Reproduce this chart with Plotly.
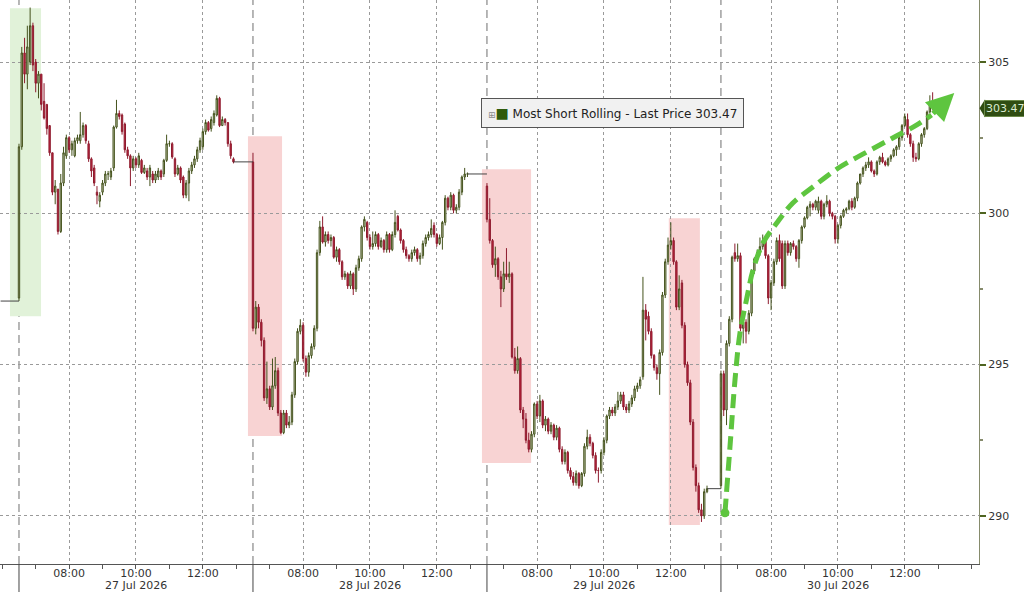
import plotly.graph_objects as go

# ---------------- data ----------------
session_start_hour = 6.5      # 06:30 session start
session_length_h = 7.0        # hours shown per day
bar_minutes = 5

day_labels = ["27 Jul 2026", "28 Jul 2026", "29 Jul 2026", "30 Jul 2026"]
day_label_hour = 10
hour_values = [8, 10, 12]
hour_labels = ["08:00", "10:00", "12:00"]

price_ticks = [290, 295, 300, 305]
last_price = 303.47
series_name = "Most Short Rolling - Last Price"

prev_session_close = 297.1

d1_open = [297.2, 302.2, 305.3, 304.6, 305.0, 306.2, 305.0, 304.3, 304.6, 303.7, 303.6, 302.9, 302.0, 300.7, 300.8, 299.4,
           301.0, 301.9, 302.5, 302.1, 301.9, 302.4, 302.4, 302.6, 302.9, 302.3, 301.8, 301.5, 300.7, 300.4, 300.7, 301.0,
           301.3, 301.2, 301.5, 302.85, 303.3, 303.25, 302.95, 302.1, 301.9, 301.5, 301.8, 301.6, 301.75, 301.35, 301.4, 301.2,
           301.3, 301.1, 301.2, 301.4, 301.3, 301.75, 302.3, 302.3, 301.8, 301.3, 301.5, 301.2, 300.6, 301.0, 301.4, 301.6,
           301.8, 302.1, 302.2, 302.7, 303.0, 302.8, 303.0, 303.25, 303.8, 302.9, 303.1, 303.0, 302.3, 301.8]
d1_high = [302.3, 305.5, 305.8, 306.2, 306.8, 306.3, 305.1, 304.7, 304.6, 304.3, 303.6, 302.9, 302.0, 301.1, 300.8, 301.3,
           302.2, 302.6, 302.55, 302.4, 302.5, 302.6, 303.35, 303.0, 302.95, 302.4, 301.85, 301.6, 300.9, 300.7, 301.1, 301.4,
           301.4, 301.5, 302.9, 303.75, 303.4, 303.3, 303.0, 302.2, 301.95, 301.9, 301.85, 302.0, 301.8, 301.6, 301.5, 301.6,
           301.4, 301.4, 301.5, 301.45, 301.8, 302.6, 302.4, 302.35, 301.85, 301.6, 301.55, 301.25, 301.1, 301.5, 301.7, 301.9,
           302.2, 302.5, 302.8, 303.1, 303.05, 303.2, 303.4, 303.9, 303.85, 303.2, 303.15, 303.0, 302.4, 301.85]
d1_low = [297.1, 302.1, 304.3, 304.1, 304.9, 304.7, 304.0, 303.8, 303.4, 303.1, 302.6, 301.9, 300.6, 300.3, 299.3, 299.35,
          300.9, 301.8, 302.0, 301.9, 301.85, 302.3, 302.3, 302.5, 302.3, 301.7, 301.2, 300.9, 300.3, 300.2, 300.6, 300.9,
          301.1, 301.1, 301.4, 302.8, 303.1, 302.6, 302.0, 301.8, 300.9, 301.4, 301.5, 301.5, 301.3, 301.3, 301.1, 300.9,
          301.0, 301.0, 301.1, 301.1, 301.2, 301.7, 302.2, 301.8, 301.2, 301.25, 301.0, 300.5, 300.5, 300.4, 301.3, 301.5,
          301.7, 302.0, 302.1, 302.6, 302.7, 302.7, 302.9, 303.2, 302.85, 302.9, 302.9, 302.2, 301.8, 301.65]
d1_close = [302.2, 305.3, 304.6, 305.5, 306.2, 304.9, 304.3, 304.6, 303.6, 303.15, 302.8, 302.0, 300.7, 300.9, 299.4, 301.0,
            302.0, 302.5, 302.1, 302.3, 302.4, 302.5, 302.6, 302.9, 302.4, 301.8, 301.4, 301.0, 300.6, 300.6, 301.0, 301.3,
            301.3, 301.4, 302.85, 303.3, 303.2, 302.7, 302.1, 301.9, 301.5, 301.8, 301.6, 301.9, 301.35, 301.5, 301.2, 301.5,
            301.1, 301.3, 301.4, 301.2, 301.75, 302.3, 302.3, 301.86, 301.3, 301.5, 301.1, 300.6, 301.0, 301.4, 301.6, 301.8,
            302.1, 302.4, 302.7, 303.0, 302.75, 303.1, 303.3, 303.8, 302.9, 303.1, 303.0, 302.3, 301.9, 301.7]

d2_open = [301.7, 296.2, 296.9, 296.4, 295.8, 293.9, 294.2, 293.6, 294.3, 294.8, 293.4, 292.75, 293.4, 293.0, 293.1, 294.0,
           295.1, 296.1, 296.3, 295.2, 294.75, 295.3, 295.6, 296.2, 298.7, 299.55, 299.05, 299.3, 299.1, 299.2, 298.55, 298.8,
           298.4, 297.9, 298.0, 297.6, 298.0, 297.5, 298.2, 298.5, 299.55, 299.7, 299.2, 298.9, 299.0, 299.3, 298.9, 299.1,
           298.8, 299.3, 298.8, 299.3, 299.9, 299.45, 299.1, 298.8, 298.6, 298.5, 298.7, 298.8, 298.5, 298.6, 299.0, 299.2,
           299.3, 299.6, 299.3, 299.0, 299.2, 299.7, 300.5, 300.2, 300.6, 300.1, 300.2, 300.7, 301.2, 301.3]
d2_high = [302.0, 297.1, 297.0, 296.5, 295.9, 295.1, 294.3, 295.2, 295.25, 294.9, 293.5, 293.5, 293.5, 293.3, 294.1, 295.2,
           296.2, 296.5, 296.4, 295.3, 295.4, 295.7, 296.3, 298.8, 299.75, 299.9, 299.4, 299.4, 299.3, 299.25, 298.9, 298.85,
           298.45, 298.1, 298.05, 298.1, 298.05, 298.3, 298.6, 299.6, 299.9, 299.75, 299.3, 299.4, 299.4, 299.35, 299.2, 299.15,
           299.4, 299.35, 299.4, 300.1, 299.95, 299.5, 299.15, 298.9, 298.65, 298.8, 298.9, 298.85, 298.7, 299.1, 299.3, 299.4,
           299.8, 299.7, 299.35, 299.3, 299.75, 300.6, 300.55, 300.7, 300.65, 300.3, 300.8, 301.25, 301.5, 301.35]
d2_low = [296.1, 296.0, 296.2, 295.6, 293.8, 293.7, 293.5, 293.5, 294.2, 293.3, 292.7, 292.7, 292.9, 292.9, 293.0, 293.9,
          295.0, 296.0, 295.1, 294.6, 294.6, 295.2, 295.5, 296.1, 298.6, 299.0, 298.9, 299.0, 298.9, 298.5, 298.4, 298.3,
          297.8, 297.8, 297.5, 297.5, 297.3, 297.4, 298.1, 298.4, 299.4, 299.1, 298.8, 298.8, 298.9, 298.8, 298.85, 298.7,
          298.7, 298.7, 298.75, 299.2, 299.4, 299.0, 298.7, 298.5, 298.4, 298.4, 298.6, 298.4, 298.3, 298.5, 298.9, 299.1,
          299.2, 299.2, 298.9, 298.95, 298.8, 299.6, 300.1, 300.1, 300.0, 300.0, 300.1, 300.6, 301.1, 301.2]
d2_close = [296.2, 296.9, 296.4, 295.8, 293.9, 294.2, 293.6, 294.3, 294.8, 293.4, 292.75, 293.4, 293.0, 293.1, 294.0, 295.1,
            296.1, 296.3, 295.2, 294.75, 295.3, 295.6, 296.2, 298.7, 299.55, 299.05, 299.3, 299.1, 299.2, 298.55, 298.8, 298.4,
            297.9, 298.0, 297.6, 298.0, 297.5, 298.2, 298.5, 299.55, 299.8, 299.2, 298.9, 299.0, 299.3, 298.9, 299.1, 298.8,
            299.3, 298.8, 299.3, 299.7, 299.45, 299.1, 298.8, 298.6, 298.5, 298.7, 298.8, 298.5, 298.6, 299.0, 299.2, 299.3,
            299.5, 299.3, 299.0, 299.2, 299.7, 300.5, 300.2, 300.6, 300.1, 300.2, 300.7, 301.2, 301.3, 301.3]

d3_open = [300.9, 299.8, 299.1, 298.3, 298.5, 297.9, 297.5, 298.0, 297.9, 298.0, 295.25, 294.8, 295.2, 293.5, 293.2, 292.5,
           292.2, 292.7, 293.7, 293.3, 293.8, 293.0, 293.2, 292.8, 293.0, 292.6, 292.9, 292.2, 291.8, 292.1, 291.5, 291.3,
           291.1, 291.4, 291.0, 291.4, 292.3, 292.6, 292.4, 292.0, 291.5, 291.5, 292.1, 292.5, 293.3, 293.5, 293.4, 293.6,
           293.8, 294.0, 293.6, 293.5, 293.7, 293.9, 294.2, 294.3, 294.6, 296.8, 296.6, 296.1, 295.3, 294.9, 294.7, 295.4,
           297.3, 298.4, 298.95, 299.1, 298.4, 296.9, 297.7, 296.3, 295.0, 294.4, 293.1, 291.6, 291.0, 290.2, 290.0, 290.8]
d3_high = [301.0, 300.5, 299.15, 298.9, 298.55, 298.1, 298.4, 298.85, 298.4, 298.05, 295.55, 295.6, 295.25, 293.6, 293.4, 292.75,
           292.8, 293.75, 293.8, 294.0, 293.85, 293.3, 293.25, 293.1, 293.05, 293.0, 292.95, 292.3, 292.2, 292.15, 291.6, 291.45,
           291.5, 291.45, 291.45, 292.4, 292.85, 292.7, 292.45, 292.1, 291.6, 292.2, 292.6, 293.35, 293.6, 293.6, 293.7, 294.1,
           294.1, 294.1, 293.7, 293.8, 294.0, 294.3, 294.4, 294.6, 297.9, 297.0, 296.75, 296.2, 295.35, 295.0, 295.5, 297.4,
           298.5, 299.2, 299.7, 299.2, 298.45, 297.95, 297.8, 296.4, 295.1, 294.5, 293.2, 291.7, 291.1, 290.4, 290.9, 291.0]
d3_low = [299.7, 299.0, 298.2, 297.9, 297.8, 296.9, 297.4, 297.8, 297.7, 295.2, 294.7, 294.7, 293.4, 292.9, 292.4, 292.1,
          292.1, 292.6, 293.2, 293.1, 292.9, 292.8, 292.7, 292.7, 292.5, 292.5, 292.1, 291.7, 291.7, 291.4, 291.2, 291.0,
          291.0, 290.9, 290.95, 291.3, 292.2, 292.3, 291.9, 291.4, 291.1, 291.4, 292.0, 292.4, 293.2, 293.3, 293.3, 293.5,
          293.7, 293.5, 293.4, 293.4, 293.6, 293.8, 294.1, 294.2, 294.5, 295.8, 296.0, 295.2, 294.8, 294.5, 294.0, 295.3,
          297.2, 298.3, 298.8, 298.3, 296.8, 296.8, 296.2, 294.9, 294.3, 293.0, 291.5, 290.8, 290.1, 289.8, 289.9, 290.75]
d3_close = [299.8, 299.1, 298.3, 298.5, 297.9, 297.5, 298.0, 297.9, 298.0, 295.25, 294.8, 295.2, 293.5, 293.2, 292.5, 292.2,
            292.7, 293.7, 293.3, 293.8, 293.0, 293.2, 292.8, 293.0, 292.6, 292.9, 292.2, 291.8, 292.1, 291.5, 291.3, 291.1,
            291.4, 291.0, 291.4, 292.3, 292.6, 292.4, 292.0, 291.5, 291.5, 292.1, 292.5, 293.3, 293.5, 293.4, 293.6, 293.8,
            294.0, 293.6, 293.5, 293.7, 293.9, 294.2, 294.3, 294.5, 296.8, 296.5, 296.1, 295.3, 294.9, 294.7, 295.4, 297.3,
            298.4, 298.95, 299.1, 298.4, 296.9, 297.5, 296.3, 295.0, 294.4, 293.1, 291.6, 291.0, 290.2, 290.0, 290.8, 290.9]

d4_open = [291.0, 294.7, 293.5, 295.7, 296.5, 298.7, 298.5, 298.6, 296.2, 296.4, 296.1, 296.7, 298.1, 298.5, 298.7, 298.9,
           299.1, 298.6, 297.2, 297.7, 298.4, 299.1, 299.0, 297.6, 299.0, 298.7, 299.0, 298.9, 298.5, 299.1, 299.55, 299.85,
           300.2, 300.3, 300.2, 300.1, 300.4, 299.9, 300.3, 300.4, 300.0, 299.9, 299.15, 299.6, 299.9, 300.1, 300.15, 300.4,
           300.2, 300.5, 301.0, 301.3, 301.5, 301.6, 301.7, 301.4, 301.3, 301.7, 301.85, 301.7, 301.6, 301.8, 301.9, 302.1,
           302.2, 302.5, 302.9, 303.1, 302.6, 302.3, 301.85, 301.8, 302.3, 302.6, 302.8, 303.35, 303.6, 303.5]
d4_high = [294.8, 294.8, 295.8, 296.6, 298.6, 299.0, 299.0, 298.7, 296.6, 296.5, 296.8, 298.15, 298.55, 298.8, 299.2, 299.3,
           299.15, 298.65, 297.8, 298.5, 299.2, 299.3, 299.1, 299.1, 299.1, 299.05, 299.1, 298.95, 299.15, 299.6, 299.9, 300.25,
           300.4, 300.35, 300.45, 300.55, 300.45, 300.35, 300.6, 300.45, 300.05, 299.95, 299.65, 299.95, 300.15, 300.2, 300.45, 300.5,
           300.55, 301.05, 301.3, 301.55, 301.7, 301.85, 301.75, 301.45, 301.75, 301.9, 302.0, 301.75, 301.85, 301.95, 302.15, 302.25,
           302.55, 302.95, 303.3, 303.3, 302.65, 302.4, 302.0, 302.35, 302.65, 302.85, 303.4, 303.9, 304.0, 303.6]
d4_low = [290.9, 293.3, 293.0, 295.6, 296.4, 298.4, 298.4, 296.1, 295.7, 295.7, 296.0, 296.6, 298.0, 298.4, 298.6, 298.8,
          298.5, 297.0, 296.8, 297.6, 298.3, 298.4, 297.5, 297.5, 298.6, 298.6, 298.8, 298.4, 298.2, 299.0, 299.5, 299.8,
          299.9, 300.1, 300.1, 300.0, 299.8, 299.8, 300.2, 299.9, 299.8, 299.0, 299.0, 299.5, 299.85, 300.0, 300.1, 300.1,
          300.15, 300.4, 300.95, 301.2, 301.4, 301.5, 301.35, 301.2, 301.25, 301.6, 301.65, 301.55, 301.55, 301.7, 301.85, 301.9,
          302.1, 302.4, 302.85, 302.5, 302.2, 301.7, 301.7, 301.75, 302.2, 302.5, 302.75, 303.3, 303.4, 303.4]
d4_close = [294.7, 293.5, 295.7, 296.5, 298.55, 298.5, 298.6, 296.2, 296.4, 296.1, 296.7, 298.1, 298.5, 298.7, 298.9, 299.1,
            298.6, 297.2, 297.7, 298.4, 299.1, 298.5, 297.6, 299.0, 298.7, 299.0, 298.9, 298.5, 299.1, 299.55, 299.85, 300.2,
            300.3, 300.2, 300.4, 300.4, 299.9, 300.3, 300.4, 300.0, 299.9, 299.15, 299.6, 299.9, 300.1, 300.15, 300.4, 300.2,
            300.5, 301.0, 301.3, 301.5, 301.6, 301.7, 301.4, 301.3, 301.7, 301.85, 301.7, 301.6, 301.8, 301.9, 302.1, 302.2,
            302.5, 302.9, 303.2, 302.6, 302.3, 301.85, 301.8, 302.3, 302.6, 302.8, 303.35, 303.6, 303.5, 303.47]

# highlighted zones (session-hour offsets, price bounds)
zone_x0 = [-0.27, 6.85, 13.85, 19.44]
zone_x1 = [0.66, 7.87, 15.32, 20.37]
zone_y0 = [296.6, 292.64, 291.75, 289.7]
zone_y1 = [306.78, 302.55, 301.46, 299.84]
zone_kind = ["up", "down", "down", "down"]

# hand-drawn green trend arrow (session-hour offsets, price)
arrow_x = [21.12, 21.27, 21.42, 21.57, 21.78, 21.96, 22.26, 22.67, 23.15, 23.75, 24.56, 25.37, 26.14, 26.86, 27.3]
arrow_y = [290.1, 292.28, 294.49, 296.05, 297.23, 298.13, 299.02, 299.68, 300.34, 300.87, 301.53, 302.03, 302.49, 302.92, 303.25]
arrow_tip = (27.98, 303.98)

# ---------------- build ----------------
days = [
    (d1_open, d1_high, d1_low, d1_close),
    (d2_open, d2_high, d2_low, d2_close),
    (d3_open, d3_high, d3_low, d3_close),
    (d4_open, d4_high, d4_low, d4_close),
]

X, O, H, L, C = [], [], [], [], []
day_end_x = []
for d, (o, h, l, c) in enumerate(days):
    for i in range(len(c)):
        X.append(d * session_length_h + i * bar_minutes / 60.0)
    day_end_x.append(d * session_length_h + (len(c) - 1) * bar_minutes / 60.0)
    O += o; H += h; L += l; C += c

fig = go.Figure()

UP_LINE = "#44521c"
UP_FILL = "#c6cbb0"
DN_LINE = "#8e1b2e"
DN_FILL = "#c3243d"
ARROW = "#5ec53f"
FONT = "DejaVu Sans"

# flat "no trade" connectors
conn_x = [[-0.55, 0.0]]
conn_y = [[prev_session_close, prev_session_close]]
for d in range(3):
    last_c = days[d][3][-1]
    conn_x.append([day_end_x[d], (d + 1) * session_length_h])
    conn_y.append([last_c, last_c])
for cx, cy in zip(conn_x, conn_y):
    fig.add_trace(go.Scatter(x=cx, y=cy, mode="lines", line=dict(color="#444444", width=1),
                             hoverinfo="skip", showlegend=False))

fig.add_trace(go.Candlestick(
    x=X, open=O, high=H, low=L, close=C,
    increasing=dict(line=dict(color=UP_LINE, width=1), fillcolor=UP_FILL),
    decreasing=dict(line=dict(color=DN_LINE, width=1), fillcolor=DN_FILL),
    whiskerwidth=0, showlegend=False, name=series_name,
))

# trend arrow
fig.add_trace(go.Scatter(x=arrow_x, y=arrow_y, mode="lines",
                         line=dict(color=ARROW, width=5, dash="14px,7px", shape="spline", smoothing=1.0),
                         hoverinfo="skip", showlegend=False))
fig.add_trace(go.Scatter(x=[arrow_x[0]], y=[arrow_y[0]], mode="markers",
                         marker=dict(color=ARROW, size=9), hoverinfo="skip", showlegend=False))
fig.add_annotation(x=arrow_tip[0], y=arrow_tip[1], ax=arrow_x[-1], ay=arrow_y[-1],
                   xref="x", yref="y", axref="x", ayref="y", text="",
                   showarrow=True, arrowhead=2, arrowsize=1.1, arrowwidth=5, arrowcolor=ARROW)

# zones
for x0, x1, y0, y1, k in zip(zone_x0, zone_x1, zone_y0, zone_y1, zone_kind):
    fig.add_shape(type="rect", xref="x", yref="y", x0=x0, x1=x1, y0=y0, y1=y1,
                  fillcolor="#e1f2d9" if k == "up" else "#f8d3d3", line=dict(width=0), layer="below")

# day separators + date labels
for d, dl in enumerate(day_labels):
    xs = d * session_length_h
    fig.add_shape(type="line", xref="x", yref="paper", x0=xs, x1=xs, y0=0, y1=1,
                  line=dict(color="#6f6f6f", width=1, dash="8px,5px"), layer="below")
    fig.add_shape(type="line", xref="x", yref="paper", x0=xs, x1=xs, y0=-0.06, y1=0,
                  line=dict(color="#444444", width=1), layer="above")
    fig.add_annotation(xref="x", yref="paper", x=xs + (day_label_hour - session_start_hour), y=-(586 - 564) / 564,
                       xanchor="center", yanchor="middle", showarrow=False, text=dl,
                       borderpad=0, borderwidth=0,
                       font=dict(family=FONT, size=11, color="#333333"))

# tick values / labels
tickvals, ticktext = [], []
for d in range(len(day_labels)):
    for hv, hl in zip(hour_values, hour_labels):
        tickvals.append(d * session_length_h + (hv - session_start_hour))
        ticktext.append(hl)

# legend box
fig.add_annotation(xref="paper", yref="paper", x=0.6256, y=1 - 113 / 564,
                   xanchor="center", yanchor="middle", showarrow=False,
                   text='<span style="color:#8a8a8a;font-size:9px">⊞</span><span style="color:#2e5a0c;font-size:14px">■</span> '
                        + series_name + " " + f"{last_price:.2f}",
                   font=dict(family=FONT, size=12, color="#222222"),
                   bgcolor="#f1f1f1", bordercolor="#555555", borderwidth=1, borderpad=6)

# last price tag on the axis
fig.add_annotation(xref="paper", yref="y", x=1.0, y=last_price, xanchor="left", yanchor="middle",
                   xshift=5, showarrow=False, text=f"{last_price:.2f}",
                   font=dict(family=FONT, size=11, color="#d9ead0"),
                   bgcolor="#2f4d12", bordercolor="#6b8a4a", borderwidth=1, borderpad=1)
fig.add_shape(type="path", xref="paper", yref="y",
              path=f"M 1.0005,{last_price} L 1.0062,{last_price + 0.3} L 1.0062,{last_price - 0.3} Z",
              fillcolor="#2f4d12", line=dict(width=0), layer="above")

fig.update_layout(
    width=1024, height=592,
    margin=dict(l=0, r=45, t=0, b=28, autoexpand=False),
    paper_bgcolor="white", plot_bgcolor="white",
    showlegend=False,
    font=dict(family=FONT, size=11, color="#333333"),
    xaxis=dict(
        range=[-0.568, 28.72], rangeslider=dict(visible=False), automargin=False,
        tickmode="array", tickvals=tickvals, ticktext=ticktext,
        showgrid=True, gridcolor="#9a9a9a", griddash="dot", gridwidth=1,
        showline=True, linecolor="#555555", linewidth=1,
        ticks="outside", ticklen=0, tickcolor="#555555", ticklabelstandoff=-1,
        minor=dict(tick0=0.5, dtick=1, ticks="outside", ticklen=4, tickcolor="#555555", showgrid=False),
        tickfont=dict(family=FONT, size=11, color="#333333"),
        zeroline=False, fixedrange=True,
    ),
    yaxis=dict(
        side="right", range=[288.41, 307.05], automargin=False,
        tickmode="array", tickvals=price_ticks, ticktext=[str(v) for v in price_ticks],
        showgrid=True, gridcolor="#9a9a9a", griddash="dot", gridwidth=1,
        showline=True, linecolor="#868b6c", linewidth=1,
        ticks="outside", ticklen=6, tickwidth=2, tickcolor="#4f6420",
        minor=dict(tickvals=[292.5, 297.5, 302.5], ticks="outside", ticklen=3, tickcolor="#868b6c", showgrid=False),
        tickfont=dict(family=FONT, size=11, color="#333333"),
        zeroline=False, fixedrange=True,
    ),
)

fig.write_html("out.html", config={"displayModeBar": False},
               post_script="document.body.style.margin='0px';document.body.style.overflow='hidden';")
